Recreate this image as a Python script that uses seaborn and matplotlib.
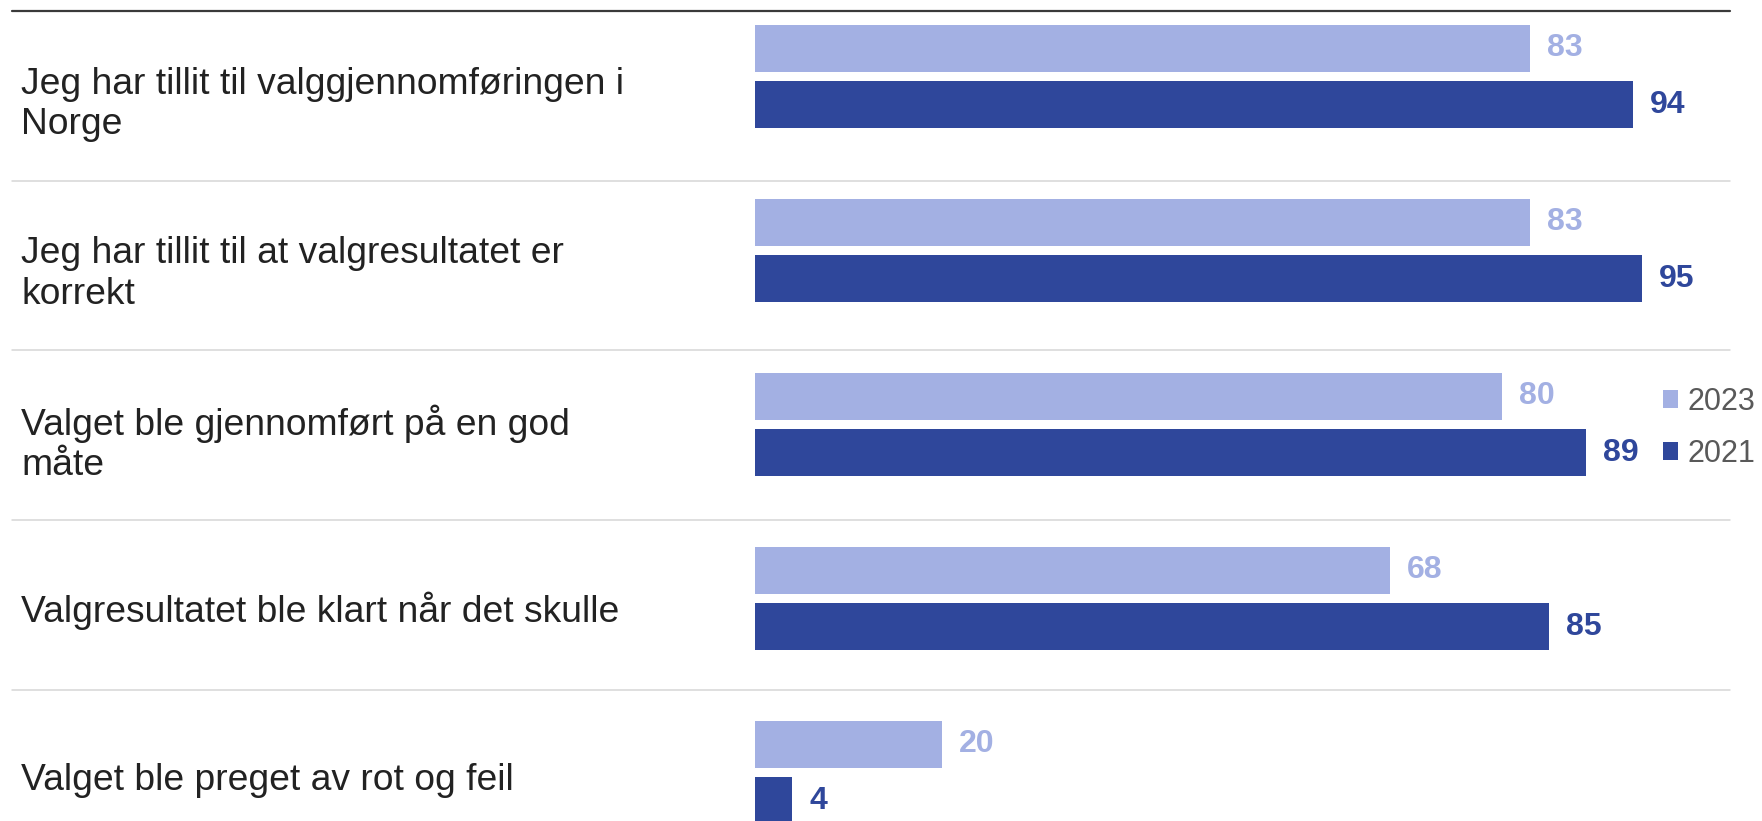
import matplotlib
matplotlib.use("Agg")
import matplotlib.pyplot as plt
from matplotlib.lines import Line2D
from matplotlib.patches import Patch
import seaborn as sns
import pandas as pd

categories = [
    "Jeg har tillit til valggjennomføringen i\nNorge",
    "Jeg har tillit til at valgresultatet er\nkorrekt",
    "Valget ble gjennomført på en god\nmåte",
    "Valgresultatet ble klart når det skulle",
    "Valget ble preget av rot og feil",
]
years = ["2023", "2021"]
values_2023 = [83, 83, 80, 68, 20]
values_2021 = [94, 95, 89, 85, 4]
colors = ["#A3B0E3", "#2F479B"]

df = pd.DataFrame({
    "category": categories * 2,
    "year": [years[0]] * len(categories) + [years[1]] * len(categories),
    "value": values_2023 + values_2021,
})

sns.set_theme(style="white")
plt.rcParams["font.family"] = ["Liberation Sans", "DejaVu Sans"]

W, H = 1762, 821
fig = plt.figure(figsize=(W / 100, H / 100), dpi=100)
ax = fig.add_axes([0, 0, 1, 1])

sns.barplot(data=df, y="category", x="value", hue="year", hue_order=years,
            palette=colors, saturation=1, orient="h", width=0.649, gap=0.168,
            linewidth=0, legend=False, ax=ax)

px_per_unit = 9.34
x0_px = 755
ax.set_xlim(-x0_px / px_per_unit, (W - x0_px) / px_per_unit)
band_px, first_px = 174.0, 76.5
ax.set_ylim((H - first_px) / band_px, -first_px / band_px)
ax.set_axis_off()

for cont, vals, col in zip(ax.containers, [values_2023, values_2021], colors):
    ax.bar_label(cont, labels=[str(v) for v in vals], padding=12,
                 fontsize=23, fontweight="bold", color=col)

# category labels and separators (figure coordinates in pixels)
def fy(p):
    return 1 - p / H

sep_step = 169.5
for k, cat in enumerate(categories):
    extra = 4 if "\n" in cat else 2
    fig.text(21 / W, fy(100.5 + extra + sep_step * k), cat, ha="left", va="center",
             fontsize=26.8, color="#222222", linespacing=1.2)

fig.add_artist(Line2D([12 / W, 1730 / W], [fy(11.5)] * 2, transform=fig.transFigure,
                      color="#3a3a3a", lw=1.6))
for k in range(1, len(categories)):
    yp = 11.5 + sep_step * k
    fig.add_artist(Line2D([12 / W, 1730 / W], [fy(yp)] * 2, transform=fig.transFigure,
                          color="#d6d6d6", lw=1.1))

handles = [Patch(facecolor=c, edgecolor="none") for c in colors]
ax.legend(handles, years, loc="center left", bbox_to_anchor=(1663 / W, fy(428)),
          bbox_transform=fig.transFigure, frameon=False, fontsize=22,
          labelcolor="#595959", handlelength=0.5, handleheight=0.5,
          handletextpad=0.3, labelspacing=0.72, borderpad=0, borderaxespad=0)

fig.savefig("out.png", dpi=100)
